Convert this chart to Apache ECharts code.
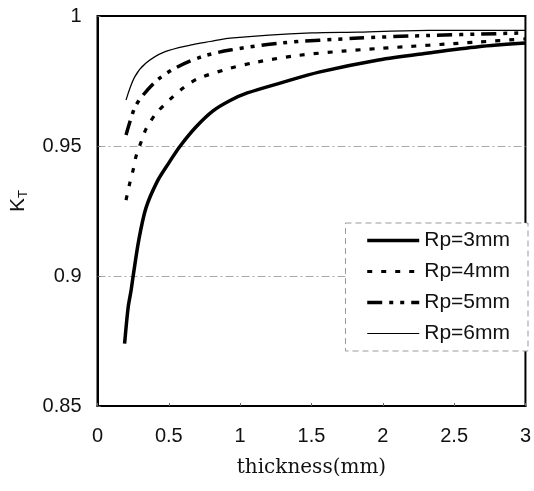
<!DOCTYPE html>
<html>
<head>
<meta charset="utf-8">
<script src="https://cdn.jsdelivr.net/npm/echarts@6/dist/echarts.min.js"></script>
<style>html,body{margin:0;padding:0;background:#fff}#c{width:534px;height:491px}</style>
</head>
<body>
<div id="c"></div>
<script>
var seriesNames = ['Rp=3mm', 'Rp=4mm', 'Rp=5mm', 'Rp=6mm'];
var xTicks = ['0', '0.5', '1', '1.5', '2', '2.5', '3'];
var yTicks = ['0.85', '0.9', '0.95', '1'];

var rp3_x = [0.19, 0.215, 0.236, 0.25, 0.29, 0.34, 0.42, 0.5, 0.58, 0.69, 0.81, 0.93, 1.05, 1.28, 1.56, 1.97, 2.32, 2.67, 3.0];
var rp3_k = [0.874, 0.888, 0.8946, 0.900, 0.914, 0.9262, 0.9365, 0.9435, 0.950, 0.9573, 0.9635, 0.9675, 0.9704, 0.9742, 0.9785, 0.9831, 0.9858, 0.9882, 0.9896];

var rp4_x = [0.2, 0.225, 0.25, 0.27, 0.305, 0.34, 0.41, 0.51, 0.6, 0.7, 0.91, 1.12, 1.4, 1.72, 1.97, 2.67, 3.0];
var rp4_k = [0.9292, 0.9354, 0.9408, 0.946, 0.9515, 0.9565, 0.9625, 0.968, 0.9723, 0.9758, 0.9796, 0.9823, 0.9848, 0.9865, 0.9875, 0.99, 0.9912];

var rp5_x = [0.2, 0.26, 0.32, 0.42, 0.56, 0.74, 0.93, 1.28, 1.83, 2.2, 3.0];
var rp5_k = [0.9542, 0.9646, 0.9696, 0.9754, 0.9804, 0.9845, 0.9869, 0.9896, 0.9915, 0.9923, 0.9935];

var rp6_x = [0.2, 0.26, 0.34, 0.47, 0.65, 0.79, 0.93, 1.5, 1.83, 2.32, 3.0];
var rp6_k = [0.9677, 0.9765, 0.9819, 0.9862, 0.9888, 0.9902, 0.9915, 0.9935, 0.9938, 0.9945, 0.9945];

function zip(xs, ys) { return xs.map(function (x, i) { return [x, ys[i]]; }); }

var lineWidths = [3.5, 3.2, 3.5, 1.2];
var lineTypes = ['solid', [5, 9], [15, 7, 4, 7, 4, 7], 'solid'];

var chart = echarts.init(document.getElementById('c'), null, {renderer: 'canvas'});
var fontSans = '"Liberation Sans", Arial, sans-serif';
var option = {
  animation: false,
  backgroundColor: '#fff',
  grid: {left: 96, right: 6, top: 16, bottom: 85, show: true, borderColor: '#000', borderWidth: 2, backgroundColor: 'transparent'},
  xAxis: {
    type: 'value', min: 0, max: 3, interval: 0.5,
    name: 'thickness(mm)', nameLocation: 'middle', nameGap: 52,
    nameTextStyle: {fontFamily: '"DejaVu Serif", serif', fontSize: 20, color: '#111'},
    axisLine: {show: true, lineStyle: {color: '#000', width: 2}},
    axisTick: {show: true, inside: true, length: 3, lineStyle: {color: '#666'}},
    axisLabel: {margin: 20, fontFamily: fontSans, fontSize: 20, color: '#111',
      formatter: function (v) { return xTicks[Math.round(v / 0.5)]; }},
    splitLine: {show: false}
  },
  yAxis: {
    type: 'value', min: 0.85, max: 1, interval: 0.05,
    name: '{k|K}{t|T}', nameLocation: 'middle', nameGap: 68, nameRotate: 90,
    nameTextStyle: {
      fontFamily: fontSans, color: '#111', padding: [0, 0, 0, 20],
      rich: {
        k: {fontFamily: fontSans, fontSize: 21, color: '#111', lineHeight: 22},
        t: {fontFamily: fontSans, fontSize: 13, color: '#111', verticalAlign: 'bottom', lineHeight: 22}
      }
    },
    axisLine: {show: true, lineStyle: {color: '#000', width: 2}},
    axisTick: {show: true, inside: true, length: 3, lineStyle: {color: '#666'}},
    axisLabel: {margin: 16, fontFamily: fontSans, fontSize: 20, color: '#111',
      formatter: function (v) { return yTicks[Math.round((v - 0.85) / 0.05)]; }},
    splitLine: {show: true, showMinLine: false, showMaxLine: false, lineStyle: {color: '#aaa', width: 1, type: [8, 3, 2, 3]}}
  },
  legend: {
    data: seriesNames.map(function (n, i) {
      return {name: n, lineStyle: {width: lineWidths[i], type: lineTypes[i], color: '#000'}, itemStyle: {opacity: 0}};
    }),
    orient: 'vertical',
    right: 6, top: 223,
    itemWidth: 52, itemHeight: 14, itemGap: 10,
    padding: [7, 18, 7, 20],
    backgroundColor: '#fff',
    borderColor: '#999', borderWidth: 1, borderType: [6, 4],
    itemStyle: {opacity: 0},
    textStyle: {fontFamily: fontSans, fontSize: 21, color: '#111'}
  },
  series: seriesNames.map(function (n, i) {
    var xs = [rp3_x, rp4_x, rp5_x, rp6_x][i];
    var ks = [rp3_k, rp4_k, rp5_k, rp6_k][i];
    return {name: n, type: 'line', data: zip(xs, ks), symbol: 'none', smooth: 0.3,
      lineStyle: {color: '#000', width: lineWidths[i], type: lineTypes[i]}, itemStyle: {color: '#000'}};
  })
};
chart.setOption(option);
</script>
</body>
</html>
